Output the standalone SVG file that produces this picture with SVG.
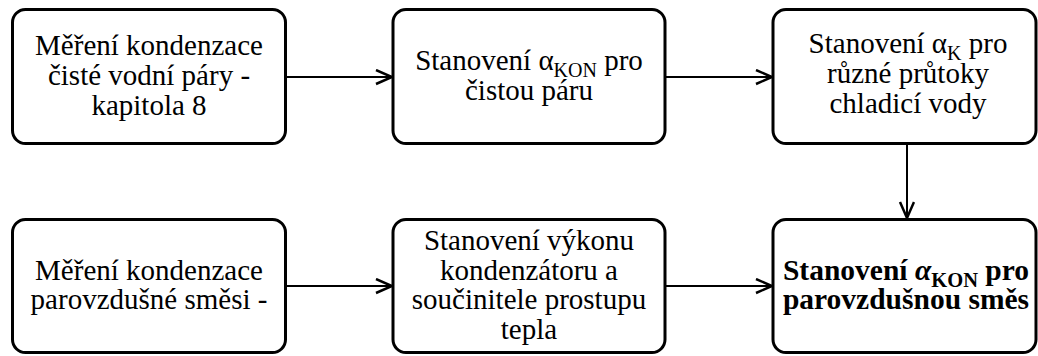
<svg xmlns="http://www.w3.org/2000/svg" width="1038" height="356" viewBox="0 0 1038 356">
  <style>
    .box { fill: #ffffff; stroke: #000000; stroke-width: 3; }
    text { font-family: 'Liberation Serif', 'Times New Roman', Times, 'DejaVu Serif', serif; font-size: 29px; fill: #000000; text-anchor: middle; }
    .bold { font-weight: bold; font-size: 29.5px; }
    .sub { font-size: 20px; }
    .bold .sub { font-size: 20.5px; }
    .conn { stroke: #000000; stroke-width: 2; fill: none; marker-end: url(#arrow); }
  </style>
  <defs>
    <marker id="arrow" markerUnits="userSpaceOnUse" markerWidth="20" markerHeight="18" refX="17" refY="8" orient="auto">
      <path d="M1,1 L17,8 L1,15" fill="none" stroke="#000000" stroke-width="2.5"/>
    </marker>
  </defs>

  <!-- connectors -->
  <g id="connectors">
    <line class="conn" x1="286" y1="77" x2="392" y2="77"/>
    <line class="conn" x1="666" y1="77" x2="772" y2="77"/>
    <line class="conn" x1="907" y1="145" x2="907" y2="218"/>
    <line class="conn" x1="286" y1="286" x2="392" y2="286"/>
    <line class="conn" x1="666" y1="286" x2="772" y2="286"/>
  </g>

  <!-- top row -->
  <g id="mereni-ciste">
    <rect class="box" x="12.5" y="9.5" width="273" height="134" rx="13"/>
    <text x="149" y="55">Měření kondenzace</text>
    <text x="149" y="85">čisté vodní páry -</text>
    <text x="149" y="115">kapitola 8</text>
  </g>

  <g id="alpha-kon-cista">
    <rect class="box" x="393" y="9.5" width="272" height="134" rx="13"/>
    <text x="529" y="70">Stanovení α<tspan class="sub" baseline-shift="-7">KON</tspan> pro</text>
    <text x="529" y="100">čistou páru</text>
  </g>

  <g id="alpha-k">
    <rect class="box" x="773" y="9.5" width="263" height="134" rx="13"/>
    <text x="908" y="53">Stanovení α<tspan class="sub" baseline-shift="-7">K</tspan> pro</text>
    <text x="908" y="83">různé průtoky</text>
    <text x="908" y="113">chladicí vody</text>
  </g>

  <!-- bottom row -->
  <g id="mereni-smesi">
    <rect class="box" x="12.5" y="219.5" width="273" height="133" rx="13"/>
    <text x="149" y="280">Měření kondenzace</text>
    <text x="149" y="309">parovzdušné směsi -</text>
  </g>

  <g id="vykon-kondenzatoru">
    <rect class="box" x="393" y="219.5" width="272" height="133" rx="13"/>
    <text x="529" y="250">Stanovení výkonu</text>
    <text x="529" y="280">kondenzátoru a</text>
    <text x="529" y="309">součinitele prostupu</text>
    <text x="529" y="339">tepla</text>
  </g>

  <g id="alpha-kon-smes">
    <rect class="box" x="773" y="219.5" width="263" height="133" rx="13"/>
    <text class="bold" x="906" y="280">Stanovení <tspan font-style="italic">α</tspan><tspan class="sub" baseline-shift="-7">KON</tspan> pro</text>
    <text class="bold" x="906" y="309">parovzdušnou směs</text>
  </g>
</svg>
